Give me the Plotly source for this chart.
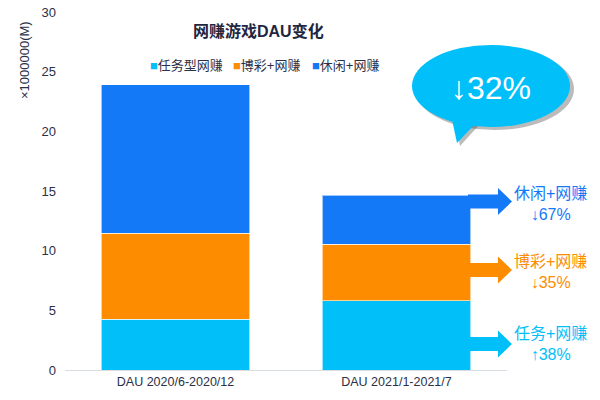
import plotly.graph_objects as go

periods = ["DAU 2020/6-2020/12", "DAU 2021/1-2021/7"]
task_dau = [4.25, 5.8]
gamble_dau = [7.2, 4.75]
casual_dau = [12.45, 4.1]
series_names = ["任务型网赚", "博彩+网赚", "休闲+网赚"]
colors = ["#00bff9", "#fd8c00", "#1479f7"]

change_labels = ["任务+网赚<br>↑38%", "博彩+网赚<br>↓35%", "休闲+网赚<br>↓67%"]
total_change = "↓32%"

W, H = 600, 400
L, R, T, B = 65, 93, 12, 30
INK = "#2b3048"


def px(x):
    # screen pixel -> paper
    return (x - L) / (W - L - R)


def py(y):
    return (H - B - y) / (H - T - B)


fig = go.Figure()
for name, vals, c in zip(series_names, [task_dau, gamble_dau, casual_dau], colors):
    fig.add_trace(go.Bar(x=periods, y=vals, name=name, marker_color=c,
                         marker_line=dict(color="rgba(255,255,255,0.6)", width=1)))

shapes = []
# arrows from second bar to the change labels
for cy, c in zip([344, 270, 201.5], colors):
    pts = [(468, cy - 7), (498, cy - 7), (498, cy - 13.5), (512, cy),
           (498, cy + 13.5), (498, cy + 7), (468, cy + 7)]
    path = "M " + " L ".join(f"{px(x):.4f},{py(y):.4f}" for x, y in pts) + " Z"
    shapes.append(dict(type="path", xref="paper", yref="paper", path=path,
                       fillcolor=c, line=dict(width=0)))

# speech bubble with shadow
bub = "#00bff9"
shapes.append(dict(type="circle", xref="paper", yref="paper",
                   x0=px(415), x1=px(574), y0=py(130), y1=py(48),
                   fillcolor="rgba(60,60,60,0.35)", line=dict(width=0)))
shapes.append(dict(type="path", xref="paper", yref="paper",
                   path=f"M {px(455):.4f},{py(118):.4f} L {px(460):.4f},{py(146):.4f} "
                        f"L {px(480):.4f},{py(124):.4f} Z",
                   fillcolor="rgba(60,60,60,0.35)", line=dict(width=0)))
shapes.append(dict(type="circle", xref="paper", yref="paper",
                   x0=px(412), x1=px(570), y0=py(127), y1=py(45),
                   fillcolor=bub, line=dict(width=0)))
shapes.append(dict(type="path", xref="paper", yref="paper",
                   path=f"M {px(451):.4f},{py(115):.4f} L {px(457):.4f},{py(143):.4f} "
                        f"L {px(478):.4f},{py(121):.4f} Z",
                   fillcolor=bub, line=dict(width=0)))


def note(text, x, y, size, color, **kw):
    return dict(text=text, x=px(x), y=py(y), xref="paper", yref="paper",
                xanchor="center", yanchor="middle", showarrow=False,
                font=dict(size=size, color=color), **kw)


annotations = [
    note("<b>网赚游戏DAU变化</b>", 258, 31, 16, "#1f2740"),
    note("×1000000(M)", 25, 60, 13, INK, textangle=-90),
    note(total_change, 491, 88, 32, "white"),
]
# legend drawn as small coloured squares + labels
for name, c, x in zip(series_names, colors, [186, 266, 345]):
    annotations.append(note(f"<span style='color:{c}'>■</span>{name}", x, 65, 13, INK))

for lab, cy, c in zip(change_labels, [344, 272, 204], colors):
    annotations.append(note(lab, 550, cy, 16, c))

fig.update_layout(
    width=W, height=H, margin=dict(l=L, r=R, t=T, b=B),
    barmode="stack", bargap=0.33, showlegend=False,
    paper_bgcolor="white", plot_bgcolor="white",
    font=dict(family="Liberation Sans, Noto Sans CJK SC, sans-serif", color=INK),
    shapes=shapes, annotations=annotations,
)
fig.update_xaxes(showline=True, linecolor="#d8dce3", linewidth=1, ticks="",
                 tickfont=dict(size=12.5, color=INK), automargin=False)
fig.update_yaxes(range=[0, 30], dtick=5, showgrid=False, zeroline=False,
                 tickfont=dict(size=13, color=INK), ticklabelstandoff=8,
                 automargin=False)

# drop the default 8px body margin so the figure fills the window
fig.write_html("out.html", config={"displayModeBar": False},
               post_script="document.body.style.margin='0';")
